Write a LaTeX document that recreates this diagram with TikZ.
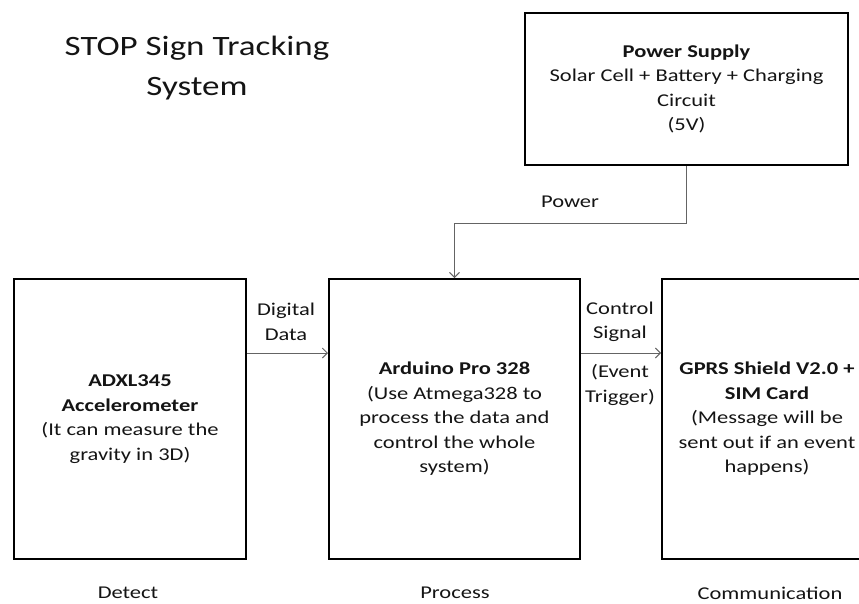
\documentclass[tikz,border=0pt]{standalone}
\usepackage{fontspec}
\setmainfont{Carlito}[FakeStretch=1.25]
\usetikzlibrary{arrows.meta}
\definecolor{txt}{RGB}{20,20,20}
\definecolor{lc}{RGB}{100,100,100}
\begin{document}
\begin{tikzpicture}[x=1pt,y=-1pt,
  box/.style={draw=black, line width=2pt, inner sep=0pt, align=center,
    font=\fontsize{18}{24.5}\selectfont, text=txt},
  lbl/.style={align=center, inner sep=0pt, font=\fontsize{18}{24.5}\selectfont, text=txt},
  conn/.style={draw=lc, line width=0.9pt, -{Straight Barb[length=5pt,width=10pt]}}]
\useasboundingbox (0,0) rectangle (859,603);
\clip (0,0) rectangle (859,603);

\node[lbl, font=\fontsize{28}{40}\selectfont] (title) at (197,68) {STOP Sign Tracking\\System};

\node[box, minimum width=323pt, minimum height=152pt] (psu) at (686.5,89)
  {\textbf{Power Supply}\\Solar Cell + Battery + Charging\\Circuit\\(5V)};
\node[box, minimum width=232pt, minimum height=280pt] (adx) at (130,419)
  {\textbf{ADXL345}\\\textbf{Accelerometer}\\(It can measure the\\gravity in 3D)};
\node[box, minimum width=251pt, minimum height=280pt] (ard) at (454.5,419)
  {\textbf{Arduino Pro 328}\\(Use Atmega328 to\\process the data and\\control the whole\\system)};
\node[box, minimum width=210pt, minimum height=280pt] (gprs) at (767,419)
  {\textbf{GPRS Shield V2.0 +}\\\textbf{SIM Card}\\(Message will be\\sent out if an event\\happens)};

\coordinate (ay) at (0,353);
\draw[conn] (psu.south) -- ++(0,57) -| (ard.north);
\draw[conn] (adx.east |- ay) -- (ard.west |- ay);
\draw[conn] (ard.east |- ay) -- (gprs.west |- ay);

\node[lbl] (lpow) at (570,202) {Power};
\node[lbl] (ldig) at (286,322) {Digital\\Data};
\node[lbl] (lctl) at (620,322) {Control\\Signal};
\node[lbl] (levt) at (620,385) {(Event\\Trigger)};

\node[lbl] (ldet) at (128,593) {Detect};
\node[lbl] (lpro) at (455,593) {Process};
\node[lbl] (lcom) at (770,593) {Communication};
\end{tikzpicture}
\end{document}
